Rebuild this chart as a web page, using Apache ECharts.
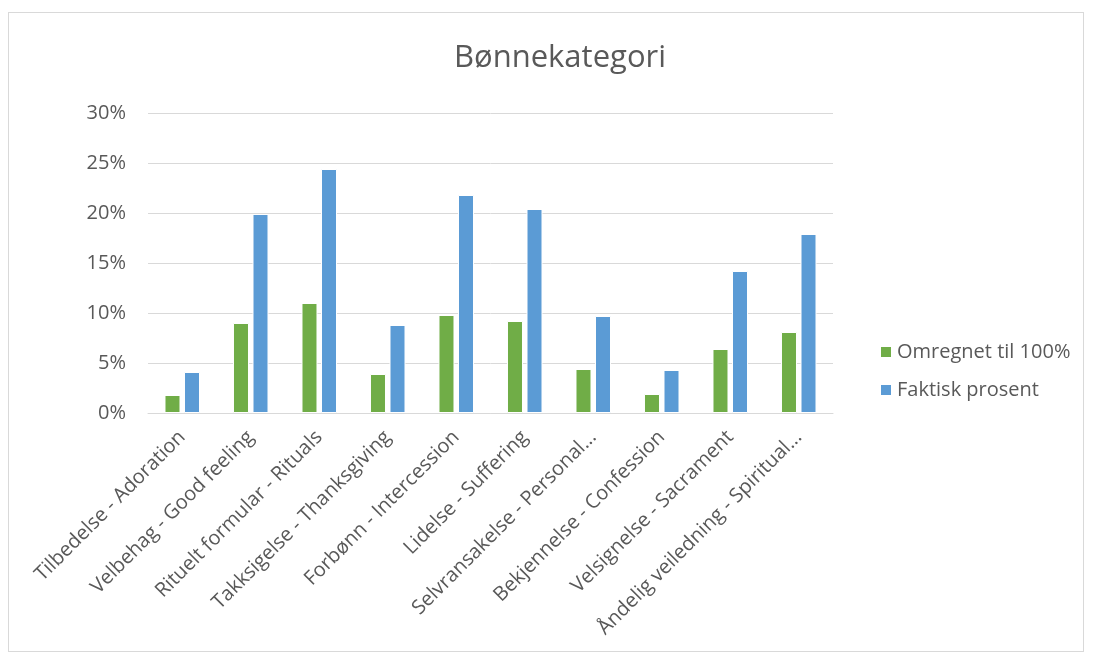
<!DOCTYPE html>
<html>
<head>
<meta charset="utf-8">
<script src="https://cdn.jsdelivr.net/npm/echarts@6/dist/echarts.min.js"></script>
<style>
  html, body { margin: 0; padding: 0; background: #fff; }
  #frame { position: absolute; left: 8px; top: 12px; width: 1076px; height: 640px; border: 1px solid #d9d9d9; box-sizing: border-box; }
  #main { position: absolute; left: 0; top: 0; width: 1093px; height: 655px; }
</style>
</head>
<body>
<div id="frame"></div>
<div id="main"></div>
<script>
// kategorier (x-akse)
var categories = [
  'Tilbedelse - Adoration',
  'Velbehag - Good feeling',
  'Rituelt formular - Rituals',
  'Takksigelse - Thanksgiving',
  'Forbønn - Intercession',
  'Lidelse - Suffering',
  'Selvransakelse - Personal...',
  'Bekjennelse - Confession',
  'Velsignelse - Sacrament',
  'Åndelig veiledning - Spiritual...'
];
var omregnet = [1.8, 9.0, 11.0, 3.9, 9.8, 9.2, 4.4, 1.9, 6.4, 8.1];
var faktisk = [4.1, 19.9, 24.4, 8.8, 21.8, 20.4, 9.7, 4.3, 14.2, 17.9];
var seriesNames = ['Omregnet til 100%', 'Faktisk prosent'];

var chart = echarts.init(document.getElementById('main'), null, { renderer: 'canvas' });
var font = 'Open Sans, Noto Sans, sans-serif';

var option = {
  backgroundColor: 'transparent',
  title: {
    text: 'Bønnekategori',
    left: 555,
    top: 38,
    textAlign: 'center',
    textStyle: { fontFamily: font, fontSize: 31, fontWeight: 'normal', color: '#595959' }
  },
  legend: {
    orient: 'vertical',
    left: 874,
    top: 337,
    itemWidth: 12,
    itemHeight: 12,
    itemGap: 18,
    icon: 'rect',
    textStyle: { fontFamily: font, fontSize: 20, color: '#595959' },
    data: seriesNames
  },
  grid: { left: 148, right: 260, top: 113, bottom: 242 },
  xAxis: {
    type: 'category',
    data: categories,
    axisTick: { show: false },
    axisLine: { lineStyle: { color: '#d9d9d9', width: 1 } },
    axisLabel: {
      interval: 0,
      rotate: 45,
      margin: 21,
      fontFamily: font,
      fontSize: 20,
      color: '#595959'
    }
  },
  yAxis: {
    type: 'value',
    min: 0,
    max: 30,
    interval: 5,
    axisLine: { show: false },
    axisTick: { show: false },
    splitLine: { lineStyle: { color: '#d9d9d9', width: 1 } },
    axisLabel: {
      formatter: '{value}%',
      margin: 22,
      fontFamily: font,
      fontSize: 20,
      color: '#595959'
    }
  },
  series: [
    {
      name: seriesNames[0],
      type: 'bar',
      data: omregnet,
      barWidth: 16,
      barGap: '22%',
      itemStyle: { color: '#70ad47', borderColor: '#ffffff', borderWidth: 1 }
    },
    {
      name: seriesNames[1],
      type: 'bar',
      data: faktisk,
      barWidth: 16,
      itemStyle: { color: '#5b9bd5', borderColor: '#ffffff', borderWidth: 1 }
    }
  ]
};

chart.setOption(option);
</script>
</body>
</html>
